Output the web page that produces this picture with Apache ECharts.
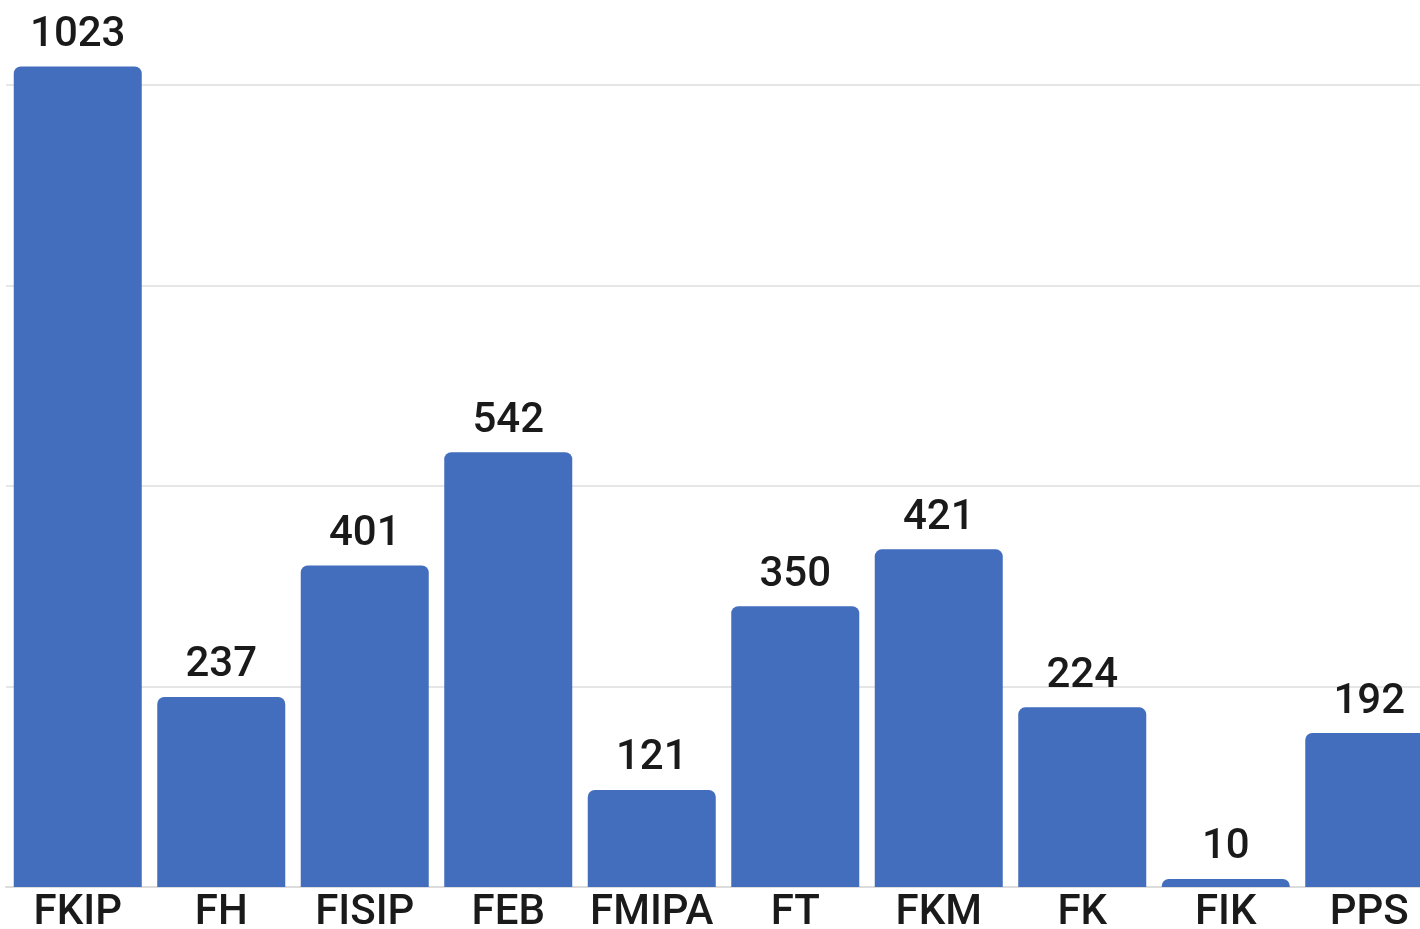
<!DOCTYPE html>
<html>
<head>
    <meta charset="utf-8">
    <title>Bar chart</title>
    <script src="https://cdn.jsdelivr.net/npm/echarts@6/dist/echarts.min.js"></script>
    <style>
        html, body { margin: 0; padding: 0; height: 100%; overflow: hidden; background: #fff; }
        #main { width: 1420px; height: 929px; }
    </style>
</head>
<body>
    <div id="main"></div>
    <script>
        const faculties = ['FKIP', 'FH', 'FISIP', 'FEB', 'FMIPA', 'FT', 'FKM', 'FK', 'FIK', 'PPS'];
        const counts = [1023, 237, 401, 542, 121, 350, 421, 224, 10, 192];

        const chart = echarts.init(document.getElementById('main'));
        chart.setOption({
            animation: false,
            grid: { left: 6, top: 85, right: -21, bottom: 42, containLabel: false, outerBoundsMode: 'none' },
            xAxis: {
                type: 'category',
                data: faculties,
                axisLine: { lineStyle: { color: '#dcdcdc', width: 2 } },
                axisTick: { show: false },
                axisLabel: {
                    fontFamily: 'Roboto',
                    fontSize: 42,
                    fontWeight: 500,
                    color: '#1a1a1a',
                    margin: 5,
                    interval: 0
                }
            },
            yAxis: {
                type: 'value',
                min: 0,
                max: 1000,
                interval: 250,
                axisLabel: { show: false },
                axisLine: { show: false },
                axisTick: { show: false },
                splitLine: { lineStyle: { color: '#e6e6e6', width: 2 } }
            },
            series: [{
                type: 'bar',
                data: counts,
                clip: false,
                barWidth: 128,
                itemStyle: { color: '#426EBD', borderRadius: [7, 7, 0, 0] },
                label: {
                    show: true,
                    position: 'top',
                    distance: 10,
                    fontFamily: 'Roboto',
                    fontSize: 42,
                    fontWeight: 500,
                    color: '#1a1a1a'
                }
            }]
        });
    </script>
</body>
</html>
